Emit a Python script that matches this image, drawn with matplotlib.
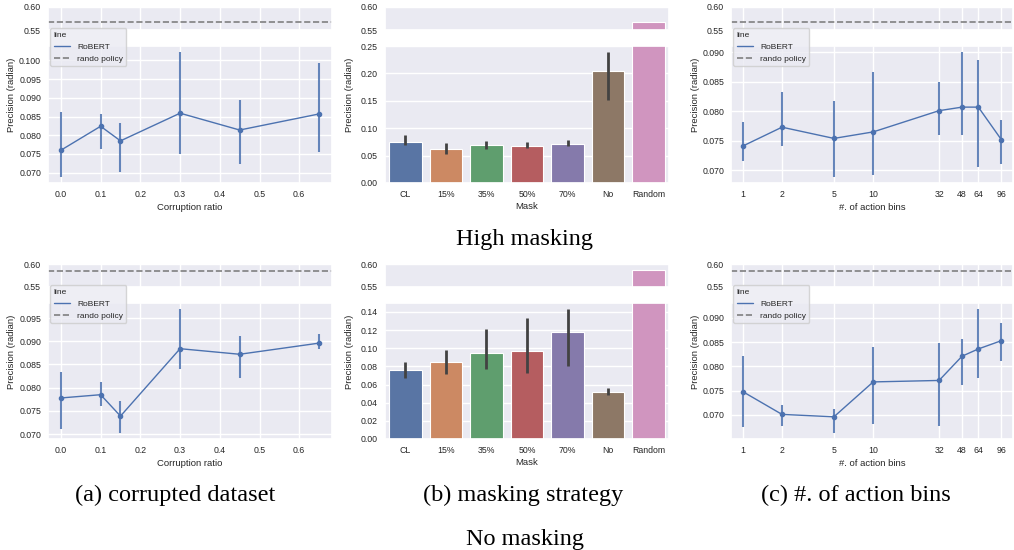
import matplotlib
matplotlib.use("Agg")
import matplotlib.pyplot as plt
import matplotlib.ticker as mticker
from matplotlib.lines import Line2D
import numpy as np
import seaborn as sns

# Corruption ratio panels (mean, lower CI, upper CI)
ratios = [0.0, 0.1, 0.15, 0.3, 0.45, 0.65]
ratio_high = [0.0760, 0.0824, 0.0785, 0.0859, 0.0814, 0.0857]
ratio_high_lo = [0.0689, 0.0762, 0.0703, 0.0750, 0.0724, 0.0755]
ratio_high_hi = [0.0861, 0.0858, 0.0832, 0.1022, 0.0894, 0.0992]
ratio_no = [0.0778, 0.0785, 0.0739, 0.0884, 0.0872, 0.0896]
ratio_no_lo = [0.0712, 0.0761, 0.0703, 0.0840, 0.0820, 0.0883]
ratio_no_hi = [0.0834, 0.0813, 0.0771, 0.0969, 0.0912, 0.0916]

# Masking strategy panels
masks = ["CL", "15%", "35%", "50%", "70%", "No", "Random"]
mask_high = [0.0752, 0.0614, 0.0687, 0.0669, 0.0716, 0.2042, 0.568]
mask_high_lo = [0.0698, 0.0535, 0.0625, 0.0632, 0.0669, 0.1523, np.nan]
mask_high_hi = [0.0873, 0.0734, 0.0764, 0.0746, 0.0777, 0.2391, np.nan]
mask_no = [0.0765, 0.0845, 0.0943, 0.0968, 0.1175, 0.0515, 0.586]
mask_no_lo = [0.0675, 0.0715, 0.0776, 0.0722, 0.0809, 0.0486, np.nan]
mask_no_hi = [0.0852, 0.0976, 0.1211, 0.1335, 0.1429, 0.0562, np.nan]

# Action bins panels
bins = [1, 2, 5, 10, 32, 48, 64, 96]
bins_high = [0.0741, 0.0773, 0.0754, 0.0765, 0.0801, 0.0807, 0.0807, 0.0752]
bins_high_lo = [0.0715, 0.0741, 0.0689, 0.0692, 0.0759, 0.0760, 0.0706, 0.0710]
bins_high_hi = [0.0781, 0.0833, 0.0818, 0.0867, 0.0850, 0.0900, 0.0886, 0.0786]
bins_no = [0.0748, 0.0701, 0.0696, 0.0768, 0.0771, 0.0821, 0.0836, 0.0853]
bins_no_lo = [0.0675, 0.0677, 0.0663, 0.0681, 0.0677, 0.0761, 0.0776, 0.0811]
bins_no_hi = [0.0822, 0.0720, 0.0713, 0.0839, 0.0848, 0.0857, 0.0918, 0.0889]

rando_high = 0.568
rando_no = 0.585

W, H = 1014, 550
BLUE = "#4C72B0"
TICK_FS = 6.3
LABEL_FS = 6.8


def pos(x0, x1, y0, y1):
    # pixel box -> figure fraction
    return [x0 / W, 1 - y1 / H, (x1 - x0) / W, (y1 - y0) / H]


def make_axes(fig, cols, rows):
    up = fig.add_axes(pos(cols[0], cols[1], rows[0], rows[1]))
    low = fig.add_axes(pos(cols[0], cols[1], rows[2], rows[3]), sharex=up)
    up.set_ylim(0.55, 0.60)
    up.set_yticks([0.55, 0.60])
    up.yaxis.set_major_formatter(mticker.FormatStrFormatter("%.2f"))
    up.tick_params(axis="x", labelbottom=False)
    for ax in (up, low):
        ax.tick_params(labelsize=TICK_FS, length=0, pad=5, colors=".15")
    fig.text((cols[0] - 36) / W, 1 - ((rows[0] + rows[3]) / 2) / H,
             "Precision (radian)", rotation=90, ha="center", va="center",
             fontsize=LABEL_FS, color=".15")
    return up, low


def line_panel(fig, cols, rows, x, y, lo, hi, rando, xlabel, logx=False):
    up, low = make_axes(fig, cols, rows)
    y = np.array(y)
    yerr = [y - np.array(lo), np.array(hi) - y]
    low.errorbar(x, y, yerr=yerr, fmt="none", ecolor=BLUE, elinewidth=1.5, alpha=0.85)
    low.plot(x, y, color=BLUE, lw=1.0, marker="o", ms=3)
    up.axhline(rando, color="gray", ls="--", lw=1.2)
    if logx:
        low.set_xscale("log")
        low.set_xlim(0.813, 118)
        low.set_xticks(x)
        low.xaxis.set_major_formatter(mticker.FormatStrFormatter("%d"))
        low.xaxis.set_minor_locator(mticker.NullLocator())
    low.yaxis.set_major_locator(mticker.MultipleLocator(0.005))
    low.yaxis.set_major_formatter(mticker.FormatStrFormatter("%.3f"))
    low.set_xlabel(xlabel, fontsize=LABEL_FS, labelpad=3, color=".15")
    handles = [Line2D([], [], color=BLUE, lw=1.0),
               Line2D([], [], color="gray", ls="--", lw=1.2)]
    leg = low.legend(handles, ["RoBERT", "rando policy"], title="line",
                     loc="upper left", bbox_to_anchor=(0.008, 1.13),
                     borderaxespad=0, fontsize=6.0, title_fontsize=6.0,
                     frameon=True)
    leg._legend_box.align = "left"


def bar_panel(fig, cols, rows, values, lo, hi, top, step):
    up, low = make_axes(fig, cols, rows)
    colors = [sns.desaturate(c, 0.75) for c in sns.color_palette("deep", len(masks))]
    xs = np.arange(len(masks))
    for ax in (up, low):
        ax.bar(xs, values, width=0.8, color=colors, edgecolor="white", lw=0.8)
        ax.vlines(xs, lo, hi, color=".26", lw=2.0)
        ax.grid(False, axis="x")
    low.set_ylim(0, top)
    low.yaxis.set_major_locator(mticker.MultipleLocator(step))
    low.set_xlim(-0.5, len(masks) - 0.5)
    low.set_xticks(xs)
    low.set_xticklabels(masks)
    low.yaxis.set_major_formatter(mticker.FormatStrFormatter("%.2f"))
    low.set_xlabel("Mask", fontsize=LABEL_FS, labelpad=2, color=".15")


if __name__ == "__main__":
    sns.set_theme(style="darkgrid")
    plt.rcParams["font.family"] = ["Liberation Sans", "DejaVu Sans"]

    fig = plt.figure(figsize=(W / 100, H / 100), dpi=100)

    left = (48, 332)
    mid = (385, 669)
    right = (731, 1013)
    top_rows = (7, 30, 46, 183)
    bot_rows = (264, 287, 303, 439)

    # High masking row
    line_panel(fig, left, top_rows, ratios, ratio_high, ratio_high_lo, ratio_high_hi,
               rando_high, "Corruption ratio")
    bar_panel(fig, mid, top_rows, mask_high, mask_high_lo, mask_high_hi, 0.25, 0.05)
    line_panel(fig, right, top_rows, bins, bins_high, bins_high_lo, bins_high_hi,
               rando_high, "#. of action bins", logx=True)

    # No masking row
    line_panel(fig, left, bot_rows, ratios, ratio_no, ratio_no_lo, ratio_no_hi,
               rando_no, "Corruption ratio")
    bar_panel(fig, mid, bot_rows, mask_no, mask_no_lo, mask_no_hi, 0.1499, 0.02)
    line_panel(fig, right, bot_rows, bins, bins_no, bins_no_lo, bins_no_hi,
               rando_no, "#. of action bins", logx=True)

    # Captions
    serif = ["Liberation Serif", "DejaVu Serif"]
    fig.text(525 / W, 1 - 240 / H, "High masking", ha="center", va="center",
             fontsize=17.5, family=serif, color="black")
    fig.text(175 / W, 1 - 495 / H, "(a) corrupted dataset", ha="center", va="center",
             fontsize=17.5, family=serif, color="black")
    fig.text(523 / W, 1 - 495 / H, "(b) masking strategy", ha="center", va="center",
             fontsize=17.5, family=serif, color="black")
    fig.text(856 / W, 1 - 495 / H, "(c) #. of action bins", ha="center", va="center",
             fontsize=17.5, family=serif, color="black")
    fig.text(525 / W, 1 - 540 / H, "No masking", ha="center", va="center",
             fontsize=17.5, family=serif, color="black")

    fig.savefig("out.png", dpi=100)
